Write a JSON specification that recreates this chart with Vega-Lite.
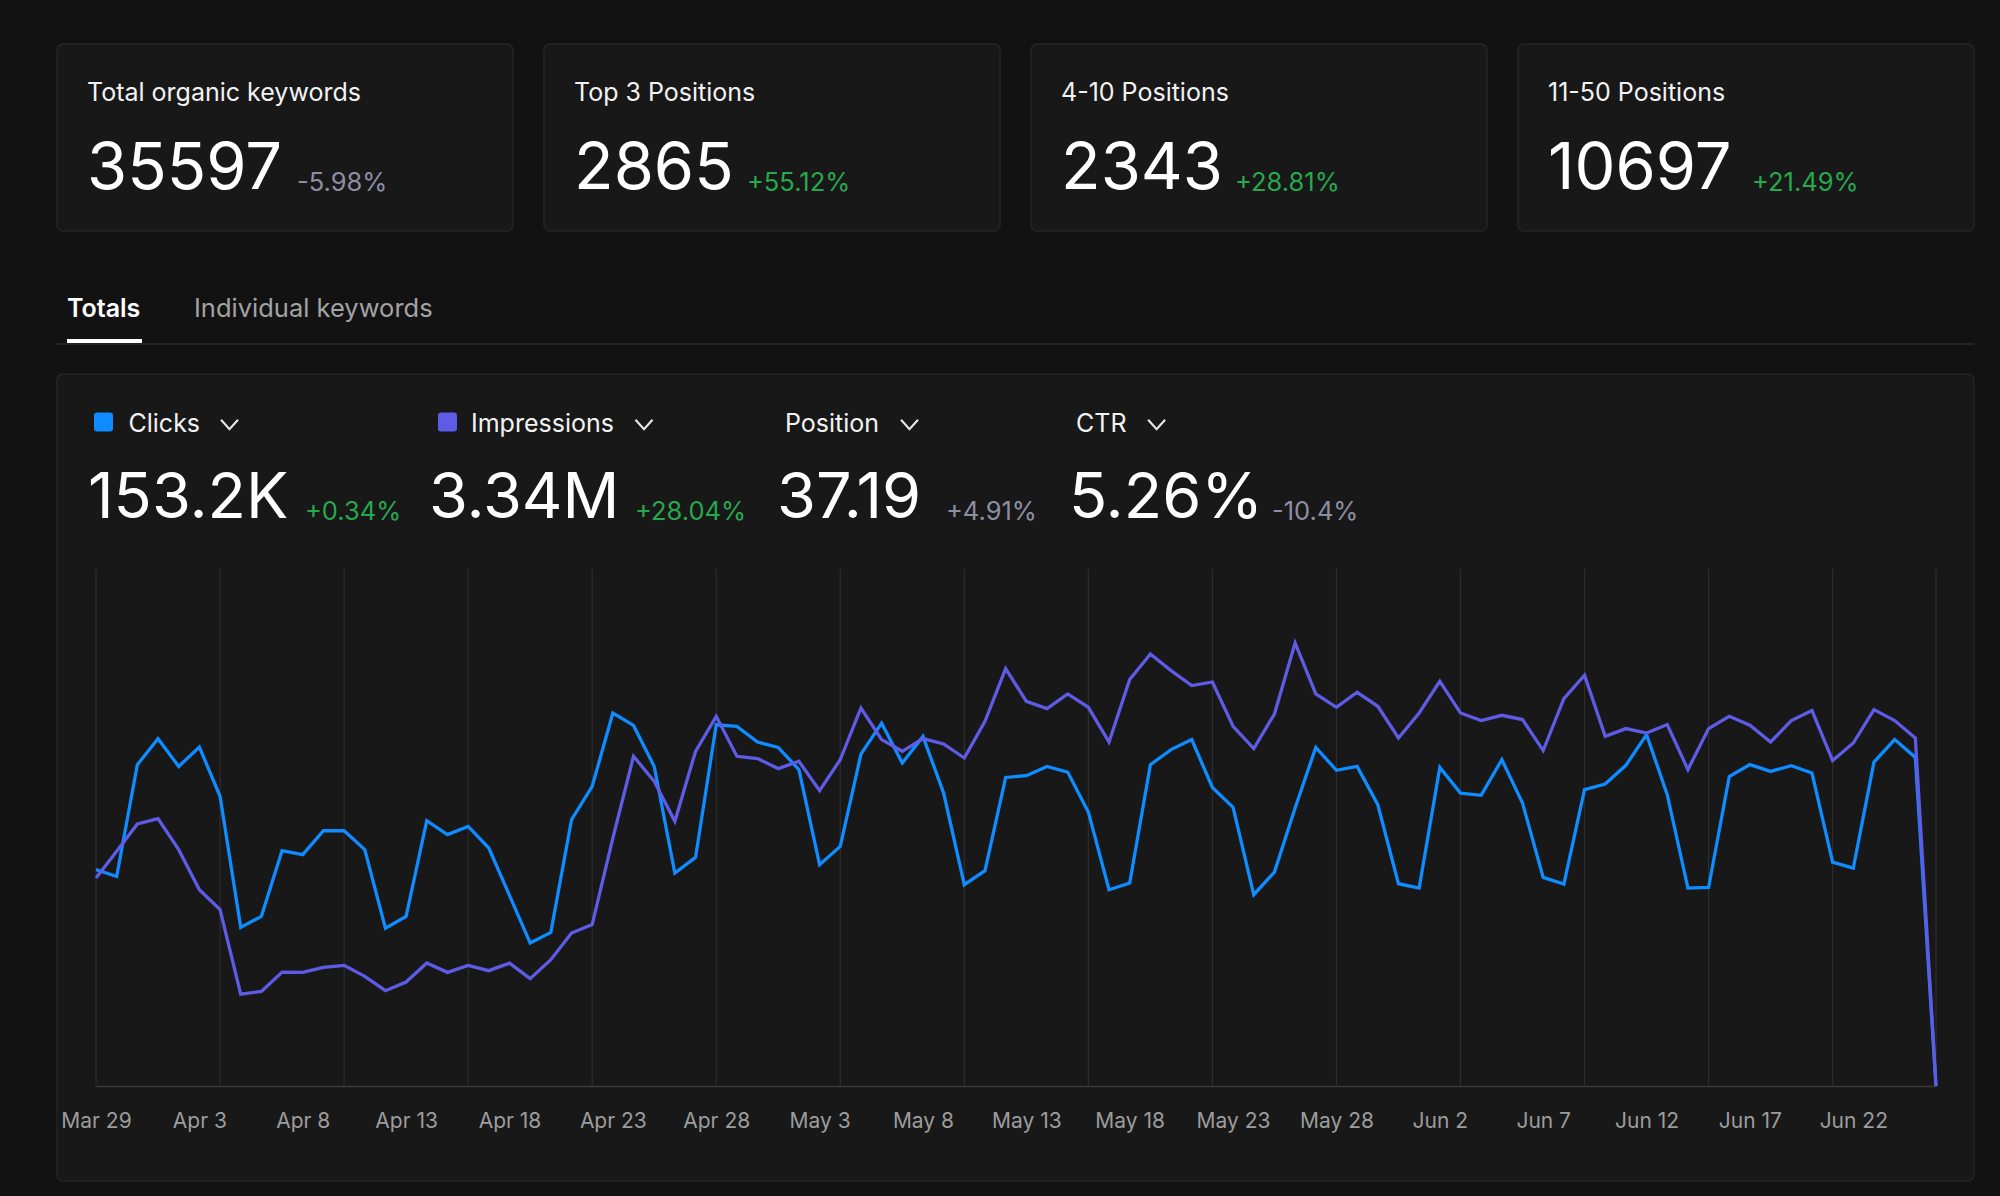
{
  "$schema": "https://vega.github.io/schema/vega-lite/v6.json",
  "background": "#121212",
  "padding": {"left": 56, "top": 43, "right": 27, "bottom": 16},
  "spacing": 30,
  "bounds": "flush",
  "config": {
    "view": {"stroke": null},
    "font": "Inter",
    "text": {"font": "Inter"}
  },
  "vconcat": [
    {
      "width": 1917,
      "height": 187,
      "data": {"values": [
        {"card": "Total organic keywords", "total": "35597", "change": "-5.98%", "tone": "neutral"},
        {"card": "Top 3 Positions", "total": "2865", "change": "+55.12%", "tone": "good"},
        {"card": "4-10 Positions", "total": "2343", "change": "+28.81%", "tone": "good"},
        {"card": "11-50 Positions", "total": "10697", "change": "+21.49%", "tone": "good"}
      ]},
      "layer": [
        {
          "mark": {"type": "bar", "fill": "#181818", "stroke": "#252525", "strokeWidth": 1.5, "cornerRadius": 6},
          "encoding": {
            "x": {"field": "card", "type": "nominal", "axis": null,
                  "scale": {"type": "band", "domain": ["Total organic keywords", "Top 3 Positions", "4-10 Positions", "11-50 Positions"], "paddingInner": 0.06366, "paddingOuter": 0}}
          }
        },
        {
          "mark": {"type": "text", "align": "left", "baseline": "alphabetic", "dx": 30, "dy": -36.5, "fontSize": 25, "color": "#f2f2f2"},
          "encoding": {
            "x": {"field": "card", "type": "nominal", "bandPosition": 0, "axis": null},
            "text": {"field": "card"}
          }
        },
        {
          "mark": {"type": "text", "align": "left", "baseline": "alphabetic", "dx": 30, "dy": 51.5, "fontSize": 65, "color": "#ffffff"},
          "encoding": {
            "x": {"field": "card", "type": "nominal", "bandPosition": 0, "axis": null},
            "text": {"field": "total"}
          }
        },
        {
          "mark": {"type": "text", "align": "left", "baseline": "alphabetic", "dy": 53.5, "fontSize": 25.5,
                   "dx": {"expr": "datum.card==='Total organic keywords'?240:datum.card==='Top 3 Positions'?203:datum.card==='4-10 Positions'?204:234"}},
          "encoding": {
            "x": {"field": "card", "type": "nominal", "bandPosition": 0, "axis": null},
            "text": {"field": "change"},
            "color": {"field": "tone", "type": "nominal", "scale": {"domain": ["good", "neutral"], "range": ["#27a84e", "#8e8ea2"]}, "legend": null}
          }
        }
      ]
    },
    {
      "width": 1917,
      "height": 83,
      "data": {"values": [
        {"tab": "Totals", "state": "active"},
        {"tab": "Individual keywords", "state": "inactive"}
      ]},
      "layer": [
        {
          "mark": {"type": "rule", "color": "#262626", "strokeWidth": 1.5},
          "encoding": {"y": {"value": "height"}}
        },
        {
          "transform": [{"filter": "datum.state === 'active'"}],
          "mark": {"type": "rule", "color": "#ffffff", "strokeWidth": 4, "yOffset": -3, "x2Offset": 75},
          "encoding": {
            "x": {"field": "tab", "type": "nominal", "axis": null,
                  "scale": {"type": "point", "domain": ["Totals", "Individual keywords"], "range": [10, 137], "padding": 0}},
            "x2": {"field": "tab"},
            "y": {"value": "height"}
          }
        },
        {
          "transform": [{"filter": "datum.state === 'active'"}],
          "mark": {"type": "text", "align": "left", "baseline": "alphabetic", "dy": 14.5, "fontSize": 25, "fontWeight": 600, "color": "#ffffff"},
          "encoding": {
            "x": {"field": "tab", "type": "nominal", "axis": null,
                  "scale": {"type": "point", "domain": ["Totals", "Individual keywords"], "range": [10, 137], "padding": 0}},
            "text": {"field": "tab"}
          }
        },
        {
          "transform": [{"filter": "datum.state === 'inactive'"}],
          "mark": {"type": "text", "align": "left", "baseline": "alphabetic", "dy": 14.5, "fontSize": 25.5, "color": "#a3a3a3"},
          "encoding": {
            "x": {"field": "tab", "type": "nominal", "axis": null,
                  "scale": {"type": "point", "domain": ["Totals", "Individual keywords"], "range": [10, 137], "padding": 0}},
            "text": {"field": "tab"}
          }
        }
      ]
    },
    {
      "width": 1917,
      "height": 807,
      "view": {"fill": "#181818", "stroke": "#252525", "strokeWidth": 1.5, "cornerRadius": 6},
      "data": {"values": [
        {"date": "2024-03-29", "clicks": 1339, "impressions": 26549},
        {"date": "2024-03-30", "clicks": 1297, "impressions": 29958},
        {"date": "2024-03-31", "clicks": 1989, "impressions": 33445},
        {"date": "2024-04-01", "clicks": 2150, "impressions": 34134},
        {"date": "2024-04-02", "clicks": 1978, "impressions": 30175},
        {"date": "2024-04-03", "clicks": 2098, "impressions": 25068},
        {"date": "2024-04-04", "clicks": 1793, "impressions": 22513},
        {"date": "2024-04-05", "clicks": 982, "impressions": 11736},
        {"date": "2024-04-06", "clicks": 1050, "impressions": 12080},
        {"date": "2024-04-07", "clicks": 1457, "impressions": 14545},
        {"date": "2024-04-08", "clicks": 1432, "impressions": 14507},
        {"date": "2024-04-09", "clicks": 1580, "impressions": 15145},
        {"date": "2024-04-10", "clicks": 1580, "impressions": 15401},
        {"date": "2024-04-11", "clicks": 1463, "impressions": 13996},
        {"date": "2024-04-12", "clicks": 977, "impressions": 12170},
        {"date": "2024-04-13", "clicks": 1050, "impressions": 13268},
        {"date": "2024-04-14", "clicks": 1642, "impressions": 15694},
        {"date": "2024-04-15", "clicks": 1556, "impressions": 14507},
        {"date": "2024-04-16", "clicks": 1607, "impressions": 15401},
        {"date": "2024-04-17", "clicks": 1473, "impressions": 14724},
        {"date": "2024-04-18", "clicks": 1180, "impressions": 15694},
        {"date": "2024-04-19", "clicks": 885, "impressions": 13702},
        {"date": "2024-04-20", "clicks": 951, "impressions": 16128},
        {"date": "2024-04-21", "clicks": 1648, "impressions": 19525},
        {"date": "2024-04-22", "clicks": 1855, "impressions": 20598},
        {"date": "2024-04-23", "clicks": 2308, "impressions": 31657},
        {"date": "2024-04-24", "clicks": 2232, "impressions": 42090},
        {"date": "2024-04-25", "clicks": 1978, "impressions": 38897},
        {"date": "2024-04-26", "clicks": 1318, "impressions": 33789},
        {"date": "2024-04-27", "clicks": 1415, "impressions": 42728},
        {"date": "2024-04-28", "clicks": 2236, "impressions": 47197},
        {"date": "2024-04-29", "clicks": 2226, "impressions": 42090},
        {"date": "2024-04-30", "clicks": 2129, "impressions": 41796},
        {"date": "2024-05-01", "clicks": 2096, "impressions": 40519},
        {"date": "2024-05-02", "clicks": 1958, "impressions": 41451},
        {"date": "2024-05-03", "clicks": 1370, "impressions": 37710},
        {"date": "2024-05-04", "clicks": 1483, "impressions": 41669},
        {"date": "2024-05-05", "clicks": 2054, "impressions": 48258},
        {"date": "2024-05-06", "clicks": 2246, "impressions": 44222},
        {"date": "2024-05-07", "clicks": 1999, "impressions": 42728},
        {"date": "2024-05-08", "clicks": 2164, "impressions": 44350},
        {"date": "2024-05-09", "clicks": 1813, "impressions": 43661},
        {"date": "2024-05-10", "clicks": 1246, "impressions": 41873},
        {"date": "2024-05-11", "clicks": 1333, "impressions": 46559},
        {"date": "2024-05-12", "clicks": 1910, "impressions": 53289},
        {"date": "2024-05-13", "clicks": 1921, "impressions": 49113},
        {"date": "2024-05-14", "clicks": 1978, "impressions": 48181},
        {"date": "2024-05-15", "clicks": 1943, "impressions": 50046},
        {"date": "2024-05-16", "clicks": 1695, "impressions": 48347},
        {"date": "2024-05-17", "clicks": 1215, "impressions": 43916},
        {"date": "2024-05-18", "clicks": 1256, "impressions": 51885},
        {"date": "2024-05-19", "clicks": 1989, "impressions": 55154},
        {"date": "2024-05-20", "clicks": 2082, "impressions": 53034},
        {"date": "2024-05-21", "clicks": 2144, "impressions": 51118},
        {"date": "2024-05-22", "clicks": 1848, "impressions": 51578},
        {"date": "2024-05-23", "clicks": 1725, "impressions": 45921},
        {"date": "2024-05-24", "clicks": 1184, "impressions": 43073},
        {"date": "2024-05-25", "clicks": 1324, "impressions": 47492},
        {"date": "2024-05-26", "clicks": 1720, "impressions": 56558},
        {"date": "2024-05-27", "clicks": 2096, "impressions": 50046},
        {"date": "2024-05-28", "clicks": 1954, "impressions": 48347},
        {"date": "2024-05-29", "clicks": 1978, "impressions": 50263},
        {"date": "2024-05-30", "clicks": 1741, "impressions": 48475},
        {"date": "2024-05-31", "clicks": 1252, "impressions": 44427},
        {"date": "2024-06-01", "clicks": 1225, "impressions": 47619},
        {"date": "2024-06-02", "clicks": 1972, "impressions": 51667},
        {"date": "2024-06-03", "clicks": 1813, "impressions": 47619},
        {"date": "2024-06-04", "clicks": 1799, "impressions": 46649},
        {"date": "2024-06-05", "clicks": 2020, "impressions": 47326},
        {"date": "2024-06-06", "clicks": 1751, "impressions": 46777},
        {"date": "2024-06-07", "clicks": 1291, "impressions": 42818},
        {"date": "2024-06-08", "clicks": 1250, "impressions": 49458},
        {"date": "2024-06-09", "clicks": 1834, "impressions": 52434},
        {"date": "2024-06-10", "clicks": 1869, "impressions": 44644},
        {"date": "2024-06-11", "clicks": 1985, "impressions": 45627},
        {"date": "2024-06-12", "clicks": 2175, "impressions": 45065},
        {"date": "2024-06-13", "clicks": 1803, "impressions": 46138},
        {"date": "2024-06-14", "clicks": 1225, "impressions": 40392},
        {"date": "2024-06-15", "clicks": 1229, "impressions": 45627},
        {"date": "2024-06-16", "clicks": 1916, "impressions": 47197},
        {"date": "2024-06-17", "clicks": 1989, "impressions": 46049},
        {"date": "2024-06-18", "clicks": 1947, "impressions": 43916},
        {"date": "2024-06-19", "clicks": 1983, "impressions": 46649},
        {"date": "2024-06-20", "clicks": 1937, "impressions": 47926},
        {"date": "2024-06-21", "clicks": 1386, "impressions": 41541},
        {"date": "2024-06-22", "clicks": 1349, "impressions": 43788},
        {"date": "2024-06-23", "clicks": 2005, "impressions": 48054},
        {"date": "2024-06-24", "clicks": 2144, "impressions": 46649},
        {"date": "2024-06-25", "clicks": 2034, "impressions": 44427},
        {"date": "2024-06-26", "clicks": 0, "impressions": 0}
      ]},
      "resolve": {
        "scale": {"x": "independent", "y": "independent", "color": "independent"},
        "axis": {"x": "independent", "y": "independent"}
      },
      "layer": [
        {
          "data": {"values": [
            {"date": "2024-03-29"}, {"date": "2024-04-04"}, {"date": "2024-04-10"}, {"date": "2024-04-16"},
            {"date": "2024-04-22"}, {"date": "2024-04-28"}, {"date": "2024-05-04"}, {"date": "2024-05-10"},
            {"date": "2024-05-16"}, {"date": "2024-05-22"}, {"date": "2024-05-28"}, {"date": "2024-06-03"},
            {"date": "2024-06-09"}, {"date": "2024-06-15"}, {"date": "2024-06-21"}, {"date": "2024-06-26"}
          ]},
          "mark": {"type": "rule", "color": "#2e2e2e", "strokeWidth": 1.2},
          "encoding": {
            "x": {"field": "date", "type": "temporal", "axis": null,
                  "scale": {"type": "utc", "domain": [{"year": 2024, "month": 3, "date": 29, "utc": true}, {"year": 2024, "month": 6, "date": 26, "utc": true}], "range": [39, 1879]}},
            "y": {"datum": 1, "type": "quantitative", "axis": null, "scale": {"domain": [0, 1], "range": [712, 195], "nice": false}},
            "y2": {"datum": 0}
          }
        },
        {
          "mark": {"type": "line", "color": "#0f8cff", "strokeWidth": 3.3},
          "encoding": {
            "x": {"field": "date", "type": "temporal",
                  "scale": {"type": "utc", "domain": [{"year": 2024, "month": 3, "date": 29, "utc": true}, {"year": 2024, "month": 6, "date": 26, "utc": true}], "range": [39, 1879]},
                  "axis": {
                    "title": null, "grid": false, "ticks": false, "offset": -95,
                    "domainColor": "#393939", "domainWidth": 1.5,
                    "labelColor": "#9c9c9c", "labelFontSize": 21, "labelFont": "Inter", "labelPadding": 24,
                    "labelFlush": false, "labelOverlap": false,
                    "labelExpr": "utcFormat(datum.value, '%b %-d')",
                    "values": [
                      {"year": 2024, "month": 3, "date": 29, "utc": true},
                      {"year": 2024, "month": 4, "date": 3, "utc": true},
                      {"year": 2024, "month": 4, "date": 8, "utc": true},
                      {"year": 2024, "month": 4, "date": 13, "utc": true},
                      {"year": 2024, "month": 4, "date": 18, "utc": true},
                      {"year": 2024, "month": 4, "date": 23, "utc": true},
                      {"year": 2024, "month": 4, "date": 28, "utc": true},
                      {"year": 2024, "month": 5, "date": 3, "utc": true},
                      {"year": 2024, "month": 5, "date": 8, "utc": true},
                      {"year": 2024, "month": 5, "date": 13, "utc": true},
                      {"year": 2024, "month": 5, "date": 18, "utc": true},
                      {"year": 2024, "month": 5, "date": 23, "utc": true},
                      {"year": 2024, "month": 5, "date": 28, "utc": true},
                      {"year": 2024, "month": 6, "date": 2, "utc": true},
                      {"year": 2024, "month": 6, "date": 7, "utc": true},
                      {"year": 2024, "month": 6, "date": 12, "utc": true},
                      {"year": 2024, "month": 6, "date": 17, "utc": true},
                      {"year": 2024, "month": 6, "date": 22, "utc": true}
                    ]
                  }},
            "y": {"field": "clicks", "type": "quantitative", "axis": null, "scale": {"domain": [0, 3200], "range": [712, 195], "nice": false}}
          }
        },
        {
          "mark": {"type": "line", "color": "#5e5ce6", "strokeWidth": 3.3},
          "encoding": {
            "x": {"field": "date", "type": "temporal", "axis": null,
                  "scale": {"type": "utc", "domain": [{"year": 2024, "month": 3, "date": 29, "utc": true}, {"year": 2024, "month": 6, "date": 26, "utc": true}], "range": [39, 1879]}},
            "y": {"field": "impressions", "type": "quantitative", "axis": null, "scale": {"domain": [0, 66000], "range": [712, 195], "nice": false}}
          }
        },
        {
          "data": {"name": "header", "values": [
            {"metric": "Clicks", "total": "153.2K", "change": "+0.34%", "tone": "good", "plotted": true},
            {"metric": "Impressions", "total": "3.34M", "change": "+28.04%", "tone": "good", "plotted": true},
            {"metric": "Position", "total": "37.19", "change": "+4.91%", "tone": "neutral", "plotted": false},
            {"metric": "CTR", "total": "5.26%", "change": "-10.4%", "tone": "neutral", "plotted": false}
          ]},
          "transform": [{"filter": "datum.plotted"}],
          "mark": {"type": "point", "filled": true, "opacity": 1, "size": 361,
                   "shape": "M-0.68,-1H0.68Q1,-1 1,-0.68V0.68Q1,1 0.68,1H-0.68Q-1,1 -1,0.68V-0.68Q-1,-1 -0.68,-1Z",
                   "yOffset": -355.5,
                   "xOffset": {"expr": "datum.metric==='Clicks'?14.5:31.5"}},
          "encoding": {
            "x": {"field": "metric", "type": "nominal", "axis": null,
                  "scale": {"type": "point", "domain": ["Clicks", "Impressions", "Position", "CTR"], "range": [32, 1013], "padding": 0}},
            "color": {"field": "metric", "type": "nominal", "legend": null,
                      "scale": {"domain": ["Clicks", "Impressions"], "range": ["#0f8cff", "#5e5ce6"]}}
          }
        },
        {
          "data": {"name": "header"},
          "mark": {"type": "text", "align": "left", "baseline": "alphabetic", "fontSize": 25, "color": "#f2f2f2", "dy": -346,
                   "dx": {"expr": "datum.metric==='Clicks'?39.5:datum.metric==='Impressions'?55:datum.metric==='Position'?42:6"}},
          "encoding": {
            "x": {"field": "metric", "type": "nominal", "axis": null,
                  "scale": {"type": "point", "domain": ["Clicks", "Impressions", "Position", "CTR"], "range": [32, 1013], "padding": 0}},
            "text": {"field": "metric"}
          }
        },
        {
          "data": {"name": "header"},
          "mark": {"type": "point", "filled": false, "opacity": 1, "size": 289, "strokeWidth": 2.2, "color": "#e6e6e6",
                   "shape": "M-1,-0.55L0,0.55L1,-0.55",
                   "yOffset": -353,
                   "xOffset": {"expr": "datum.metric==='Clicks'?140.5:datum.metric==='Impressions'?228:datum.metric==='Position'?166.5:86.6"}},
          "encoding": {
            "x": {"field": "metric", "type": "nominal", "axis": null,
                  "scale": {"type": "point", "domain": ["Clicks", "Impressions", "Position", "CTR"], "range": [32, 1013], "padding": 0}}
          }
        },
        {
          "data": {"name": "header"},
          "mark": {"type": "text", "align": "left", "baseline": "alphabetic", "fontSize": 63, "color": "#ffffff", "dy": -260,
                   "dx": {"expr": "datum.metric==='Impressions'?13:datum.metric==='Position'?34:-1"}},
          "encoding": {
            "x": {"field": "metric", "type": "nominal", "axis": null,
                  "scale": {"type": "point", "domain": ["Clicks", "Impressions", "Position", "CTR"], "range": [32, 1013], "padding": 0}},
            "text": {"field": "total"}
          }
        },
        {
          "data": {"name": "header"},
          "mark": {"type": "text", "align": "left", "baseline": "alphabetic", "fontSize": 25.5, "dy": -258,
                   "dx": {"expr": "datum.metric==='Clicks'?216:datum.metric==='Impressions'?219:datum.metric==='Position'?203:202"}},
          "encoding": {
            "x": {"field": "metric", "type": "nominal", "axis": null,
                  "scale": {"type": "point", "domain": ["Clicks", "Impressions", "Position", "CTR"], "range": [32, 1013], "padding": 0}},
            "text": {"field": "change"},
            "color": {"field": "tone", "type": "nominal", "legend": null,
                      "scale": {"domain": ["good", "neutral"], "range": ["#27a84e", "#8e8ea2"]}}
          }
        }
      ]
    }
  ]
}
